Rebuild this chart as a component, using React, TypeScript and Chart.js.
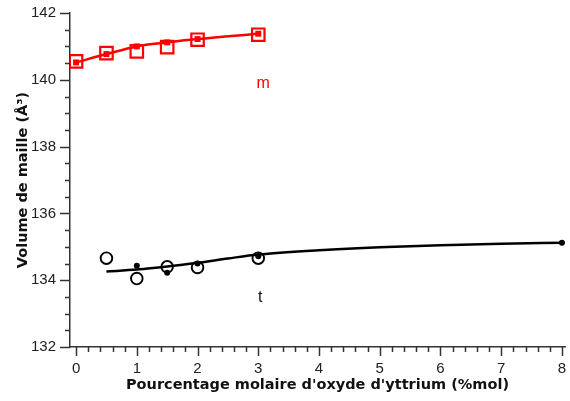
import React, { useEffect, useRef } from "react";
import { Chart, registerables } from "chart.js";

Chart.register(...registerables);

// m phase (monoclinic) – red
const mX = [0, 0.5, 1, 1.5, 2, 3];
const mOpen = [140.55, 140.8, 140.85, 140.98, 141.2, 141.35];
const mFilled = [140.52, 140.77, 141.0, 141.12, 141.22, 141.38];

// t phase (tetragonal) – black
const tOpenX = [0.5, 1, 1.5, 2, 3];
const tOpen = [134.66, 134.05, 134.4, 134.38, 134.66];
const tFilledX = [1, 1.5, 2, 3, 8];
const tFilled = [134.43, 134.22, 134.5, 134.72, 135.12];
const tFitX = [0.5, 1, 1.5, 2, 2.5, 3, 4, 5, 6, 7, 8];
const tFit = [134.26, 134.32, 134.41, 134.52, 134.65, 134.77, 134.9, 134.99, 135.05, 135.09, 135.12];

const xMajorTicks = [0, 1, 2, 3, 4, 5, 6, 7, 8];
const yMajorTicks = [132, 134, 136, 138, 140, 142];
const xMinorStep = 0.2;
const yMinorStep = 0.5;

const labels = [
  { text: "m", x: 3.08, y: 139.9, color: "#ff0000" },
  { text: "t", x: 3.03, y: 133.48, color: "#111111" },
];

const zip = (xs: number[], ys: number[]) => xs.map((x, i) => ({ x, y: ys[i] }));

export default function App() {
  const ref = useRef<HTMLCanvasElement | null>(null);

  useEffect(() => {
    if (!ref.current) return;

    const ticksPlugin = {
      id: "customTicks",
      afterDraw(chart: any) {
        const ctx = chart.ctx;
        const xs = chart.scales.x;
        const ys = chart.scales.y;
        const area = chart.chartArea;
        ctx.save();
        ctx.strokeStyle = "#333333";
        ctx.lineWidth = 1.5;
        for (let v = 0; v <= 8 + 1e-6; v += xMinorStep) {
          const vv = Math.round(v * 10) / 10;
          const major = xMajorTicks.includes(vv);
          const px = Math.round(xs.getPixelForValue(vv)) + 0.5;
          ctx.beginPath();
          ctx.moveTo(px, area.bottom);
          ctx.lineTo(px, area.bottom + (major ? 9 : 5));
          ctx.stroke();
        }
        for (let v = 132; v <= 142 + 1e-6; v += yMinorStep) {
          const major = yMajorTicks.includes(v);
          const py = Math.round(ys.getPixelForValue(v)) + 0.5;
          ctx.beginPath();
          ctx.moveTo(area.left, py);
          ctx.lineTo(area.left - (major ? 10 : 5), py);
          ctx.stroke();
        }
        ctx.font = "16px 'Liberation Sans'";
        ctx.textAlign = "center";
        ctx.textBaseline = "middle";
        for (const l of labels) {
          ctx.fillStyle = l.color;
          ctx.fillText(l.text, xs.getPixelForValue(l.x), ys.getPixelForValue(l.y));
        }
        ctx.restore();
      },
    };

    const chart = new Chart(ref.current, {
      type: "scatter",
      data: {
        datasets: [
          {
            label: "m fit",
            data: zip(mX, mFilled),
            showLine: true,
            borderColor: "#ff0000",
            backgroundColor: "#ff0000",
            borderWidth: 2.5,
            tension: 0.4,
            cubicInterpolationMode: "monotone",
            pointStyle: "rect",
            pointRadius: 4.2,
            pointBorderWidth: 0,
          },
          {
            label: "m open",
            data: zip(mX, mOpen),
            showLine: false,
            borderColor: "#ff0000",
            backgroundColor: "rgba(0,0,0,0)",
            pointStyle: "rect",
            pointRadius: 8.8,
            pointBorderWidth: 2.2,
          },
          {
            label: "t fit",
            data: zip(tFitX, tFit),
            showLine: true,
            borderColor: "#000000",
            borderWidth: 2.5,
            tension: 0.4,
            cubicInterpolationMode: "monotone",
            pointRadius: 0,
          },
          {
            label: "t filled",
            data: zip(tFilledX, tFilled),
            showLine: false,
            borderColor: "#000000",
            backgroundColor: "#000000",
            pointRadius: 3,
            pointBorderWidth: 0,
          },
          {
            label: "t open",
            data: zip(tOpenX, tOpen),
            showLine: false,
            borderColor: "#000000",
            backgroundColor: "rgba(0,0,0,0)",
            pointRadius: 5.8,
            pointBorderWidth: 1.9,
          },
        ],
      },
      options: {
        animation: false,
        responsive: false,
        maintainAspectRatio: false,
        events: [],
        layout: { padding: { top: 13, right: 4, left: 0, bottom: 0 } },
        plugins: {
          legend: { display: false },
          tooltip: { enabled: false },
        },
        scales: {
          x: {
            type: "linear",
            min: -0.1,
            max: 8.05,
            afterBuildTicks: (s: any) => {
              s.ticks = xMajorTicks.map((v) => ({ value: v }));
            },
            afterFit: (s: any) => {
              s.height = 54;
              s.paddingLeft = 0;
              s.paddingRight = 0;
            },
            grid: { display: true, drawOnChartArea: false, drawTicks: false, color: "rgba(0,0,0,0)" },
            border: { display: true, color: "#333333", width: 1.5 },
            ticks: {
              color: "#222222",
              font: { family: "Liberation Sans", size: 15 },
              padding: 13,
              maxRotation: 0,
              autoSkip: false,
            },
            title: {
              display: true,
              text: "Pourcentage molaire d'oxyde d'yttrium (%mol)",
              color: "#111111",
              font: { family: "DejaVu Sans", size: 14.5, weight: "bold" },
              padding: { top: 0, bottom: 7 },
            },
          },
          y: {
            type: "linear",
            min: 132,
            max: 142,
            afterBuildTicks: (s: any) => {
              s.ticks = yMajorTicks.map((v) => ({ value: v }));
            },
            afterFit: (s: any) => {
              s.width = 70;
              s.paddingTop = 0;
              s.paddingBottom = 0;
            },
            grid: { display: true, drawOnChartArea: false, drawTicks: false, color: "rgba(0,0,0,0)" },
            border: { display: true, color: "#333333", width: 1.5 },
            ticks: {
              color: "#222222",
              font: { family: "Liberation Sans", size: 15 },
              padding: 14,
              autoSkip: false,
            },
            title: {
              display: true,
              text: "Volume de maille (Å³)",
              color: "#111111",
              font: { family: "DejaVu Sans", size: 14.5, weight: "bold" },
              padding: { top: 15, bottom: 0 },
            },
          },
        },
      },
      plugins: [ticksPlugin],
    } as any);

    return () => chart.destroy();
  }, []);

  return (
    <div style={{ position: "absolute", left: 0, top: 0, width: 570, height: 401, overflow: "hidden", background: "#fff" }}>
      <canvas ref={ref} width={576} height={401} style={{ display: "block", width: 576, height: 401 }} />
    </div>
  );
}
